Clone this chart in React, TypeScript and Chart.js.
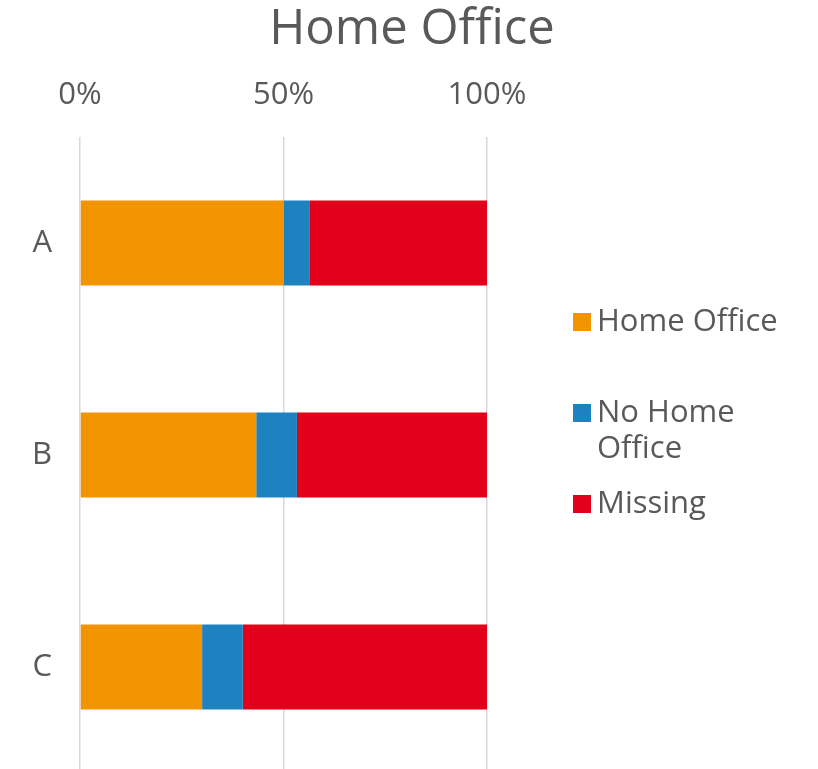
import React, { useEffect, useRef } from "react";
import { Chart, registerables } from "chart.js";

Chart.register(...registerables);

const categories = ["A", "B", "C"];
const homeOffice = [50, 43.3, 30];
const noHomeOffice = [6.5, 10, 10];
const missing = [43.5, 46.7, 60];
const seriesLabels = ["Home Office", "No Home Office", "Missing"];
const legendLines = [["Home Office"], ["No Home", "Office"], ["Missing"]];
const xTicks = [0, 50, 100];
const colors = ["#F29400", "#1F82C0", "#E2001A"];
const textColor = "#595959";
const fontFamily = "'Open Sans', 'Noto Sans', sans-serif";

const legendPlugin = {
  id: "sideLegend",
  afterDraw(chart: any) {
    const { ctx, chartArea } = chart;
    const boxX = chartArea.right + 86;
    const textX = boxX + 24;
    const y0 = chartArea.top + 185;
    const itemStep = 91;
    const lineStep = 36;
    ctx.save();
    ctx.font = `31px ${fontFamily}`;
    ctx.textBaseline = "middle";
    ctx.textAlign = "left";
    chart.data.datasets.forEach((ds: any, i: number) => {
      const y = y0 + i * itemStep;
      ctx.fillStyle = ds.backgroundColor;
      ctx.fillRect(boxX, y - 9, 18, 18);
      ctx.fillStyle = textColor;
      legendLines[i].forEach((line, j) => {
        ctx.fillText(line, textX, y + j * lineStep);
      });
    });
    ctx.restore();
  },
};

export default function App() {
  const ref = useRef<HTMLCanvasElement>(null);

  useEffect(() => {
    document.body.style.margin = "0";
    const canvas = ref.current;
    if (!canvas) return;
    const chart = new Chart(canvas, {
      type: "bar",
      data: {
        labels: categories,
        datasets: [
          { label: seriesLabels[0], data: homeOffice, backgroundColor: colors[0] },
          { label: seriesLabels[1], data: noHomeOffice, backgroundColor: colors[1] },
          { label: seriesLabels[2], data: missing, backgroundColor: colors[2] },
        ],
      },
      options: {
        indexAxis: "y",
        responsive: false,
        animation: false,
        layout: { padding: { top: 0, left: 6, right: 0, bottom: 2 } },
        datasets: {
          bar: { barPercentage: 0.4, categoryPercentage: 1, borderWidth: 0 },
        },
        scales: {
          x: {
            type: "linear",
            position: "top",
            stacked: true,
            min: 0,
            max: 100,
            afterBuildTicks: (s: any) => {
              s.ticks = xTicks.map((v) => ({ value: v }));
            },
            afterFit: (s: any) => {
              s.height = 137 - 57.2;
              s.paddingLeft = 0;
              s.paddingRight = 0;
            },
            grid: { color: "#D9D9D9", lineWidth: 1.5, drawTicks: false },
            border: { display: false },
            ticks: {
              padding: 24,
              color: textColor,
              font: { family: fontFamily, size: 31, lineHeight: 36 / 31 },
              callback: (v: any) => v + "%",
            },
          },
          y: {
            type: "category",
            position: "left",
            stacked: true,
            afterFit: (s: any) => {
              s.width = 74;
              s.paddingTop = 0;
              s.paddingBottom = 0;
            },
            grid: { display: false, drawTicks: false },
            border: { display: false },
            ticks: {
              padding: 28,
              color: textColor,
              font: { family: fontFamily, size: 31, lineHeight: 36 / 31 },
            },
          },
          yR: {
            type: "category",
            position: "right",
            display: true,
            afterFit: (s: any) => {
              s.width = 331;
              s.paddingTop = 0;
              s.paddingBottom = 0;
            },
            grid: { display: false, drawTicks: false },
            border: { display: false },
            ticks: { display: false },
          },
        },
        plugins: {
          legend: { display: false },
          tooltip: { enabled: false },
          title: {
            display: true,
            text: "Home Office",
            color: textColor,
            padding: { top: 2, bottom: 0 },
            font: { family: fontFamily, size: 49, weight: "normal", lineHeight: 55.2 / 49 },
          },
        },
      },
      plugins: [legendPlugin],
    } as any);
    return () => chart.destroy();
  }, []);

  return (
    <div style={{ width: 818, height: 769, overflow: "hidden", background: "#fff" }}>
      <canvas ref={ref} width={818} height={775} style={{ display: "block" }} />
    </div>
  );
}
